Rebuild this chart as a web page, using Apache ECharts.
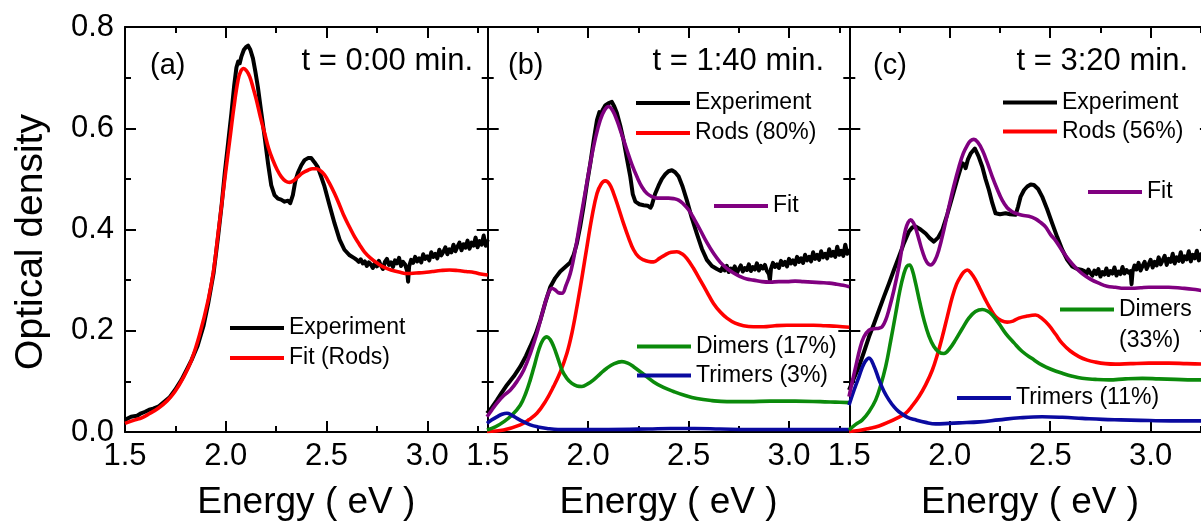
<!DOCTYPE html>
<html>
<head>
<meta charset="utf-8">
<script src="https://cdn.jsdelivr.net/npm/echarts@6/dist/echarts.min.js"></script>
<style>
  html, body { margin: 0; padding: 0; background: #ffffff; }
  #chart { width: 1201px; height: 525px; }
</style>
</head>
<body>
<div id="chart"></div>
<script>
// ---- Absorption spectra: [energy (eV), optical density] ----

// (a) t = 0:00 min
const expA = [[1.50,0.024],[1.53,0.030],[1.56,0.032],[1.58,0.037],[1.60,0.040],[1.62,0.044],[1.64,0.046],[1.665,0.050],[1.69,0.058],[1.72,0.068],[1.748,0.083],[1.78,0.103],[1.81,0.126],[1.83,0.142],[1.86,0.170],[1.89,0.210],[1.913,0.254],[1.94,0.315],[1.962,0.386],[1.98,0.450],[1.995,0.511],[2.012,0.572],[2.028,0.629],[2.042,0.685],[2.053,0.720],[2.062,0.732],[2.069,0.728],[2.078,0.742],[2.090,0.755],[2.100,0.760],[2.111,0.763],[2.122,0.755],[2.135,0.738],[2.147,0.712],[2.160,0.680],[2.176,0.632],[2.193,0.583],[2.210,0.530],[2.226,0.487],[2.242,0.468],[2.259,0.461],[2.275,0.459],[2.292,0.455],[2.309,0.457],[2.320,0.452],[2.333,0.468],[2.345,0.495],[2.358,0.512],[2.375,0.527],[2.391,0.537],[2.408,0.541],[2.424,0.541],[2.440,0.533],[2.457,0.523],[2.473,0.505],[2.490,0.485],[2.515,0.448],[2.540,0.412],[2.565,0.380],[2.589,0.360],[2.615,0.349],[2.640,0.343],[2.65,0.340],[2.66,0.336],[2.67,0.341],[2.68,0.333],[2.69,0.337],[2.70,0.328],[2.71,0.335],[2.72,0.331],[2.73,0.324],[2.74,0.333],[2.75,0.327],[2.76,0.338],[2.77,0.329],[2.78,0.322],[2.79,0.336],[2.80,0.342],[2.81,0.330],[2.82,0.335],[2.83,0.326],[2.84,0.339],[2.85,0.333],[2.86,0.344],[2.87,0.328],[2.88,0.336],[2.89,0.331],[2.90,0.318],[2.905,0.297],[2.91,0.327],[2.92,0.340],[2.93,0.334],[2.94,0.346],[2.95,0.337],[2.96,0.343],[2.97,0.335],[2.98,0.351],[2.99,0.342],[3.00,0.347],[3.01,0.339],[3.02,0.355],[3.03,0.346],[3.04,0.352],[3.05,0.343],[3.06,0.360],[3.07,0.349],[3.08,0.356],[3.09,0.365],[3.10,0.351],[3.11,0.361],[3.12,0.355],[3.13,0.370],[3.14,0.357],[3.15,0.366],[3.16,0.374],[3.17,0.359],[3.18,0.371],[3.19,0.364],[3.20,0.378],[3.21,0.362],[3.22,0.374],[3.23,0.368],[3.24,0.384],[3.25,0.365],[3.26,0.377],[3.27,0.370],[3.28,0.388],[3.29,0.368],[3.30,0.380]];
const fitA = [[1.50,0.017],[1.55,0.024],[1.583,0.028],[1.62,0.036],[1.665,0.047],[1.71,0.062],[1.748,0.080],[1.79,0.108],[1.83,0.142],[1.87,0.192],[1.913,0.261],[1.94,0.320],[1.962,0.392],[1.98,0.450],[2.000,0.515],[2.020,0.577],[2.040,0.640],[2.061,0.695],[2.075,0.713],[2.089,0.718],[2.104,0.713],[2.119,0.702],[2.135,0.681],[2.152,0.656],[2.172,0.622],[2.193,0.590],[2.213,0.560],[2.234,0.537],[2.255,0.518],[2.276,0.504],[2.296,0.496],[2.317,0.493],[2.338,0.497],[2.358,0.504],[2.383,0.512],[2.408,0.517],[2.430,0.520],[2.449,0.520],[2.470,0.516],[2.490,0.508],[2.515,0.491],[2.540,0.471],[2.565,0.448],[2.589,0.425],[2.614,0.405],[2.639,0.386],[2.664,0.370],[2.688,0.356],[2.720,0.343],[2.754,0.333],[2.787,0.325],[2.820,0.320],[2.860,0.316],[2.903,0.313],[2.945,0.314],[2.985,0.315],[3.025,0.317],[3.068,0.319],[3.110,0.320],[3.150,0.319],[3.193,0.317],[3.233,0.315],[3.265,0.312],[3.30,0.310]];

// (b) t = 1:40 min
const expB = [[1.4965,0.037],[1.52,0.048],[1.546,0.063],[1.57,0.078],[1.596,0.093],[1.63,0.110],[1.662,0.129],[1.69,0.150],[1.712,0.169],[1.74,0.195],[1.762,0.221],[1.787,0.256],[1.812,0.287],[1.836,0.304],[1.861,0.317],[1.886,0.326],[1.911,0.335],[1.928,0.350],[1.944,0.373],[1.960,0.405],[1.977,0.445],[1.994,0.490],[2.011,0.531],[2.028,0.577],[2.044,0.616],[2.056,0.632],[2.064,0.628],[2.072,0.636],[2.085,0.645],[2.100,0.649],[2.118,0.652],[2.130,0.643],[2.143,0.630],[2.160,0.605],[2.176,0.577],[2.193,0.540],[2.210,0.504],[2.222,0.470],[2.235,0.455],[2.255,0.450],[2.276,0.448],[2.296,0.447],[2.310,0.443],[2.317,0.448],[2.333,0.470],[2.351,0.487],[2.367,0.500],[2.384,0.509],[2.400,0.515],[2.417,0.517],[2.433,0.513],[2.450,0.505],[2.470,0.485],[2.491,0.458],[2.516,0.423],[2.541,0.392],[2.566,0.362],[2.591,0.340],[2.616,0.328],[2.641,0.322],[2.65,0.322],[2.66,0.318],[2.67,0.326],[2.68,0.319],[2.69,0.328],[2.70,0.316],[2.71,0.323],[2.72,0.319],[2.73,0.327],[2.74,0.313],[2.75,0.322],[2.76,0.329],[2.77,0.317],[2.78,0.324],[2.79,0.320],[2.80,0.331],[2.81,0.318],[2.82,0.326],[2.83,0.321],[2.84,0.333],[2.85,0.319],[2.86,0.328],[2.87,0.323],[2.88,0.330],[2.89,0.318],[2.90,0.312],[2.905,0.300],[2.91,0.322],[2.92,0.334],[2.93,0.326],[2.94,0.331],[2.95,0.324],[2.96,0.338],[2.97,0.330],[2.98,0.336],[2.99,0.327],[3.00,0.342],[3.01,0.333],[3.02,0.339],[3.03,0.331],[3.04,0.346],[3.05,0.336],[3.06,0.343],[3.07,0.334],[3.08,0.350],[3.09,0.339],[3.10,0.346],[3.11,0.337],[3.12,0.355],[3.13,0.342],[3.14,0.350],[3.15,0.340],[3.16,0.357],[3.17,0.345],[3.18,0.352],[3.19,0.343],[3.20,0.361],[3.21,0.348],[3.22,0.356],[3.23,0.346],[3.24,0.366],[3.25,0.350],[3.26,0.358],[3.27,0.348],[3.28,0.370],[3.29,0.352],[3.30,0.362]];
const rodsB = [[1.4965,0.001],[1.579,0.004],[1.662,0.014],[1.704,0.024],[1.745,0.037],[1.787,0.060],[1.828,0.090],[1.861,0.118],[1.894,0.155],[1.919,0.195],[1.944,0.247],[1.969,0.305],[1.994,0.366],[2.019,0.425],[2.044,0.471],[2.065,0.490],[2.085,0.496],[2.106,0.490],[2.127,0.471],[2.151,0.443],[2.176,0.412],[2.201,0.384],[2.226,0.360],[2.251,0.346],[2.276,0.340],[2.301,0.337],[2.326,0.336],[2.355,0.343],[2.384,0.350],[2.413,0.355],[2.442,0.356],[2.467,0.352],[2.491,0.343],[2.525,0.323],[2.558,0.300],[2.591,0.277],[2.624,0.254],[2.658,0.237],[2.691,0.225],[2.732,0.215],[2.773,0.210],[2.823,0.208],[2.873,0.208],[2.930,0.210],[2.989,0.211],[3.055,0.211],[3.122,0.211],[3.180,0.210],[3.238,0.209],[3.30,0.207]];
const dimersB = [[1.4965,0.004],[1.538,0.010],[1.579,0.020],[1.620,0.033],[1.662,0.053],[1.690,0.077],[1.712,0.103],[1.735,0.135],[1.754,0.162],[1.775,0.182],[1.795,0.188],[1.812,0.182],[1.828,0.169],[1.849,0.146],[1.870,0.122],[1.894,0.106],[1.919,0.096],[1.944,0.091],[1.969,0.090],[1.998,0.095],[2.027,0.103],[2.060,0.115],[2.093,0.126],[2.130,0.135],[2.168,0.139],[2.197,0.136],[2.226,0.129],[2.276,0.114],[2.326,0.099],[2.375,0.088],[2.425,0.080],[2.483,0.072],[2.541,0.066],[2.616,0.062],[2.691,0.060],[2.800,0.060],[2.906,0.061],[3.030,0.061],[3.155,0.060],[3.230,0.059],[3.30,0.058]];
const trimersB = [[1.4965,0.017],[1.521,0.024],[1.546,0.030],[1.571,0.035],[1.596,0.037],[1.621,0.033],[1.646,0.027],[1.679,0.020],[1.712,0.014],[1.750,0.010],[1.795,0.007],[1.850,0.005],[1.911,0.005],[2.100,0.005],[2.300,0.006],[2.409,0.007],[2.530,0.007],[2.657,0.006],[2.800,0.005],[3.000,0.005],[3.30,0.005]];
const fitB = [[1.4965,0.030],[1.52,0.043],[1.546,0.057],[1.58,0.072],[1.613,0.083],[1.646,0.100],[1.679,0.122],[1.712,0.155],[1.745,0.195],[1.770,0.232],[1.795,0.267],[1.808,0.279],[1.820,0.284],[1.835,0.281],[1.852,0.275],[1.870,0.274],[1.890,0.290],[1.911,0.313],[1.936,0.360],[1.961,0.418],[1.986,0.475],[2.011,0.531],[2.036,0.580],[2.060,0.616],[2.082,0.636],[2.102,0.643],[2.122,0.635],[2.143,0.616],[2.168,0.587],[2.193,0.557],[2.218,0.528],[2.243,0.504],[2.268,0.484],[2.293,0.471],[2.318,0.465],[2.342,0.462],[2.370,0.462],[2.400,0.462],[2.425,0.461],[2.450,0.458],[2.475,0.450],[2.500,0.439],[2.530,0.419],[2.558,0.399],[2.590,0.375],[2.624,0.353],[2.658,0.335],[2.691,0.323],[2.724,0.314],[2.757,0.307],[2.790,0.302],[2.823,0.300],[2.865,0.297],[2.906,0.296],[2.950,0.297],[2.989,0.297],[3.030,0.298],[3.072,0.297],[3.115,0.296],[3.155,0.295],[3.200,0.294],[3.238,0.292],[3.270,0.290],[3.30,0.287]];

// (c) t = 3:20 min
const expC = [[1.4985,0.083],[1.523,0.106],[1.548,0.129],[1.573,0.158],[1.598,0.188],[1.623,0.214],[1.648,0.241],[1.673,0.268],[1.698,0.294],[1.722,0.320],[1.747,0.346],[1.772,0.373],[1.797,0.396],[1.813,0.404],[1.830,0.406],[1.855,0.400],[1.880,0.392],[1.900,0.383],[1.921,0.376],[1.942,0.384],[1.963,0.399],[1.988,0.430],[2.013,0.465],[2.038,0.500],[2.062,0.531],[2.072,0.528],[2.079,0.521],[2.090,0.538],[2.104,0.550],[2.125,0.560],[2.143,0.545],[2.162,0.524],[2.178,0.500],[2.195,0.478],[2.212,0.452],[2.228,0.432],[2.250,0.430],[2.278,0.432],[2.300,0.430],[2.328,0.429],[2.340,0.445],[2.353,0.465],[2.370,0.478],[2.386,0.485],[2.403,0.489],[2.419,0.488],[2.440,0.480],[2.460,0.465],[2.485,0.440],[2.510,0.412],[2.535,0.385],[2.560,0.360],[2.585,0.340],[2.610,0.327],[2.635,0.322],[2.659,0.320],[2.67,0.318],[2.68,0.311],[2.69,0.321],[2.70,0.314],[2.71,0.309],[2.72,0.319],[2.73,0.312],[2.74,0.322],[2.75,0.307],[2.76,0.316],[2.77,0.311],[2.78,0.323],[2.79,0.310],[2.80,0.318],[2.81,0.313],[2.82,0.325],[2.83,0.309],[2.84,0.317],[2.85,0.312],[2.86,0.326],[2.87,0.313],[2.88,0.320],[2.89,0.315],[2.90,0.318],[2.905,0.292],[2.91,0.316],[2.92,0.329],[2.93,0.321],[2.94,0.334],[2.95,0.319],[2.96,0.328],[2.97,0.336],[2.98,0.322],[2.99,0.331],[3.00,0.340],[3.01,0.325],[3.02,0.336],[3.03,0.329],[3.04,0.345],[3.05,0.331],[3.06,0.339],[3.07,0.348],[3.08,0.330],[3.09,0.342],[3.10,0.336],[3.11,0.352],[3.12,0.333],[3.13,0.345],[3.14,0.338],[3.15,0.355],[3.16,0.336],[3.17,0.347],[3.18,0.341],[3.19,0.357],[3.20,0.337],[3.21,0.350],[3.22,0.343],[3.23,0.358],[3.24,0.339],[3.25,0.351],[3.26,0.344],[3.27,0.356],[3.28,0.340],[3.29,0.352],[3.30,0.345]];
const rodsC = [[1.4985,0.001],[1.548,0.003],[1.598,0.007],[1.648,0.012],[1.698,0.020],[1.740,0.028],[1.780,0.037],[1.814,0.052],[1.847,0.070],[1.880,0.093],[1.913,0.122],[1.938,0.152],[1.963,0.188],[1.988,0.228],[2.013,0.267],[2.034,0.292],[2.054,0.307],[2.070,0.316],[2.087,0.320],[2.108,0.313],[2.129,0.300],[2.153,0.281],[2.178,0.261],[2.203,0.243],[2.228,0.228],[2.257,0.220],[2.286,0.217],[2.315,0.219],[2.344,0.225],[2.385,0.229],[2.427,0.231],[2.460,0.224],[2.493,0.211],[2.527,0.193],[2.560,0.175],[2.600,0.160],[2.643,0.149],[2.685,0.142],[2.726,0.138],[2.775,0.135],[2.825,0.134],[2.900,0.135],[2.991,0.136],[3.090,0.136],[3.180,0.135],[3.30,0.134]];
const dimersC = [[1.4985,0.004],[1.532,0.015],[1.565,0.024],[1.598,0.040],[1.631,0.063],[1.656,0.092],[1.681,0.129],[1.706,0.180],[1.731,0.234],[1.752,0.280],[1.772,0.313],[1.786,0.327],[1.800,0.330],[1.815,0.318],[1.830,0.294],[1.851,0.256],[1.872,0.221],[1.896,0.190],[1.921,0.169],[1.946,0.158],[1.971,0.155],[2.000,0.165],[2.029,0.182],[2.062,0.204],[2.095,0.225],[2.128,0.238],[2.162,0.242],[2.187,0.239],[2.212,0.231],[2.245,0.214],[2.278,0.195],[2.320,0.176],[2.361,0.159],[2.410,0.145],[2.460,0.132],[2.510,0.123],[2.560,0.116],[2.610,0.110],[2.659,0.106],[2.725,0.104],[2.792,0.103],[2.875,0.105],[2.958,0.106],[3.040,0.105],[3.124,0.104],[3.210,0.103],[3.30,0.103]];
const trimersC = [[1.4985,0.053],[1.523,0.082],[1.548,0.109],[1.573,0.135],[1.598,0.146],[1.623,0.130],[1.648,0.103],[1.673,0.080],[1.698,0.063],[1.722,0.050],[1.747,0.040],[1.790,0.029],[1.830,0.024],[1.880,0.019],[1.930,0.016],[1.996,0.017],[2.046,0.018],[2.150,0.020],[2.245,0.024],[2.350,0.028],[2.460,0.030],[2.560,0.029],[2.659,0.027],[2.760,0.025],[2.850,0.024],[2.950,0.023],[3.100,0.022],[3.30,0.022]];
const fitC = [[1.4985,0.070],[1.515,0.100],[1.532,0.129],[1.553,0.165],[1.573,0.188],[1.598,0.201],[1.623,0.204],[1.648,0.205],[1.664,0.208],[1.681,0.221],[1.697,0.241],[1.722,0.280],[1.747,0.327],[1.765,0.370],[1.780,0.400],[1.793,0.414],[1.805,0.419],[1.818,0.414],[1.830,0.403],[1.847,0.380],[1.863,0.358],[1.885,0.336],[1.905,0.330],[1.925,0.338],[1.946,0.360],[1.971,0.400],[1.996,0.445],[2.021,0.487],[2.046,0.524],[2.067,0.550],[2.087,0.566],[2.103,0.575],[2.120,0.578],[2.140,0.572],[2.162,0.557],[2.187,0.532],[2.212,0.504],[2.236,0.480],[2.261,0.458],[2.286,0.443],[2.311,0.435],[2.336,0.431],[2.361,0.428],[2.394,0.426],[2.427,0.421],[2.452,0.414],[2.477,0.405],[2.502,0.390],[2.527,0.378],[2.560,0.358],[2.593,0.340],[2.626,0.325],[2.659,0.313],[2.700,0.302],[2.742,0.294],[2.783,0.288],[2.825,0.286],[2.866,0.284],[2.908,0.284],[2.950,0.285],[2.991,0.286],[3.040,0.286],[3.090,0.286],[3.157,0.284],[3.210,0.282],[3.260,0.279],[3.30,0.277]];

// axis ranges and labels
const energyRange = [1.5, 3.3];
const energyMajor = 0.5;
const energyMinor = 0.25;
const odRange = [0, 0.8];
const odMajor = 0.2;
const panelTags = ['(a)', '(b)', '(c)'];
const panelTimes = ['t = 0:00 min.', 't = 1:40 min.', 't = 3:20 min.'];
const xTitle = 'Energy ( eV )';
const yTitle = 'Optical density';

// ---- layout & style ----
const FONT = '"Liberation Sans", Arial, Helvetica, sans-serif';
const C = { exp: '#000000', rods: '#ff0000', dim: '#0b8a0b', tri: '#0a0aa0', fit: '#800080' };
const panels = [{ left: 125, width: 362.7 }, { left: 487.7, width: 361.6 }, { left: 849.3, width: 361.6 }];
const TOP = 27, HEIGHT = 405;
const AXIS_W = 2;

const grid = panels.map(p => ({
  left: p.left, top: TOP, width: p.width, height: HEIGHT,
  containLabel: false, outerBoundsMode: 'none'
}));

function onMajor(v) {
  const r = v / energyMajor;
  return Math.abs(r - Math.round(r)) < 1e-6;
}

const xAxis = [];
panels.forEach((p, i) => {
  const base = {
    type: 'value', gridIndex: i, min: energyRange[0], max: energyRange[1],
    splitLine: { show: false }, minorTick: { show: false }
  };
  // bottom: major ticks, labels, title
  xAxis.push(Object.assign({}, base, {
    position: 'bottom', interval: energyMajor,
    axisLine: { show: true, lineStyle: { color: '#000', width: AXIS_W } },
    axisTick: { show: true, inside: true, length: 11, lineStyle: { color: '#000', width: AXIS_W } },
    axisLabel: {
      show: true, margin: 9, color: '#000', fontSize: 31, fontFamily: FONT,
      showMaxLabel: false,
      formatter: v => (onMajor(v) ? v.toFixed(1) : '')
    },
    name: xTitle, nameLocation: 'middle', nameGap: 52,
    nameTextStyle: { color: '#000', fontSize: 37, fontFamily: FONT }
  }));
  // bottom: minor ticks
  xAxis.push(Object.assign({}, base, {
    position: 'bottom', interval: energyMinor,
    axisLine: { show: false },
    axisTick: { show: true, inside: true, length: 6, lineStyle: { color: '#000', width: AXIS_W } },
    axisLabel: { show: false }
  }));
  // top: major ticks
  xAxis.push(Object.assign({}, base, {
    position: 'top', interval: energyMajor,
    axisLine: { show: true, lineStyle: { color: '#000', width: AXIS_W } },
    axisTick: { show: true, inside: true, length: 11, lineStyle: { color: '#000', width: AXIS_W } },
    axisLabel: { show: false }
  }));
  // top: minor ticks
  xAxis.push(Object.assign({}, base, {
    position: 'top', interval: energyMinor,
    axisLine: { show: false },
    axisTick: { show: true, inside: true, length: 6, lineStyle: { color: '#000', width: AXIS_W } },
    axisLabel: { show: false }
  }));
});

const yAxis = [];
panels.forEach((p, i) => {
  ['left', 'right'].forEach(side => {
    yAxis.push({
      type: 'value', gridIndex: i, position: side,
      min: odRange[0], max: odRange[1], interval: odMajor,
      splitLine: { show: false },
      axisLine: { show: true, lineStyle: { color: '#000', width: AXIS_W } },
      axisTick: { show: true, inside: true, length: 11, lineStyle: { color: '#000', width: AXIS_W } },
      minorTick: { show: true, splitNumber: 2, length: 6, lineStyle: { color: '#000', width: AXIS_W } },
      axisLabel: {
        show: i === 0 && side === 'left', margin: 11, color: '#000',
        fontSize: 31, fontFamily: FONT, formatter: v => v.toFixed(1)
      }
    });
  });
});

function curve(name, data, color, panel, smooth, width) {
  return {
    type: 'line', name, data, xAxisIndex: panel * 4, yAxisIndex: panel * 2,
    symbol: 'none', showSymbol: false, smooth,
    lineStyle: { color, width: width || 3.6, join: 'round' }, itemStyle: { color },
    emphasis: { disabled: true }, silent: true
  };
}

const series = [
  curve('Experiment', expA, C.exp, 0, false, 4),
  curve('Fit (Rods)', fitA, C.rods, 0, 0.4),

  curve('Experiment', expB, C.exp, 1, false, 4),
  curve('Rods (80%)', rodsB, C.rods, 1, 0.4),
  curve('Dimers (17%)', dimersB, C.dim, 1, 0.4),
  curve('Trimers (3%)', trimersB, C.tri, 1, 0.4),
  curve('Fit', fitB, C.fit, 1, 0.4),

  curve('Experiment', expC, C.exp, 2, false, 4),
  curve('Rods (56%)', rodsC, C.rods, 2, 0.4),
  curve('Dimers (33%)', dimersC, C.dim, 2, 0.4),
  curve('Trimers (11%)', trimersC, C.tri, 2, 0.4),
  curve('Fit', fitC, C.fit, 2, 0.4)
];

function legendBlock(names, left, top, lineHeight, extra) {
  return Object.assign({
    data: names, left, top, orient: 'vertical', padding: 0, itemGap: 0,
    itemWidth: 54, itemHeight: 4, icon: 'rect', selectedMode: false,
    textStyle: { color: '#000', fontSize: 23, fontFamily: FONT, lineHeight }
  }, extra || {});
}

const legend = [
  legendBlock(['Experiment', 'Fit (Rods)'], 230, 313, 30),
  legendBlock(['Experiment', 'Rods (80%)'], 636, 88, 30),
  legendBlock(['Fit'], 714, 191, 30),
  legendBlock(['Dimers (17%)', 'Trimers (3%)'], 637, 332, 29),
  legendBlock(['Experiment', 'Rods (56%)'], 1003, 88, 29),
  legendBlock(['Fit'], 1088, 177, 30),
  // two-line label: a blank first line keeps the sample beside "Dimers"
  legendBlock(['Dimers (33%)'], 1060, 263, 31, {
    formatter: n => '\n' + n.replace(' ', '\n')
  }),
  legendBlock(['Trimers (11%)'], 957, 383, 30)
];

const tagX = [150, 508, 873];
const timeRight = [473, 824, 1188];
const graphic = [];
panels.forEach((p, i) => {
  graphic.push({
    type: 'text', x: tagX[i], y: 66, silent: true,
    style: { text: panelTags[i], fill: '#000', font: '29px ' + FONT, align: 'left', verticalAlign: 'middle' }
  });
  graphic.push({
    type: 'text', x: timeRight[i], y: 61, silent: true,
    style: { text: panelTimes[i], fill: '#000', font: '31px ' + FONT, align: 'right', verticalAlign: 'middle' }
  });
});
graphic.push({
  type: 'text', x: 31, y: 242, rotation: Math.PI / 2, silent: true,
  style: { text: yTitle, fill: '#000', font: '39px ' + FONT, align: 'center', verticalAlign: 'middle' }
});

const chart = echarts.init(document.getElementById('chart'), null, { renderer: 'canvas' });
chart.setOption({
  backgroundColor: '#ffffff',
  animation: false,
  tooltip: { show: false },
  grid, xAxis, yAxis, series, legend, graphic
});
</script>
</body>
</html>
